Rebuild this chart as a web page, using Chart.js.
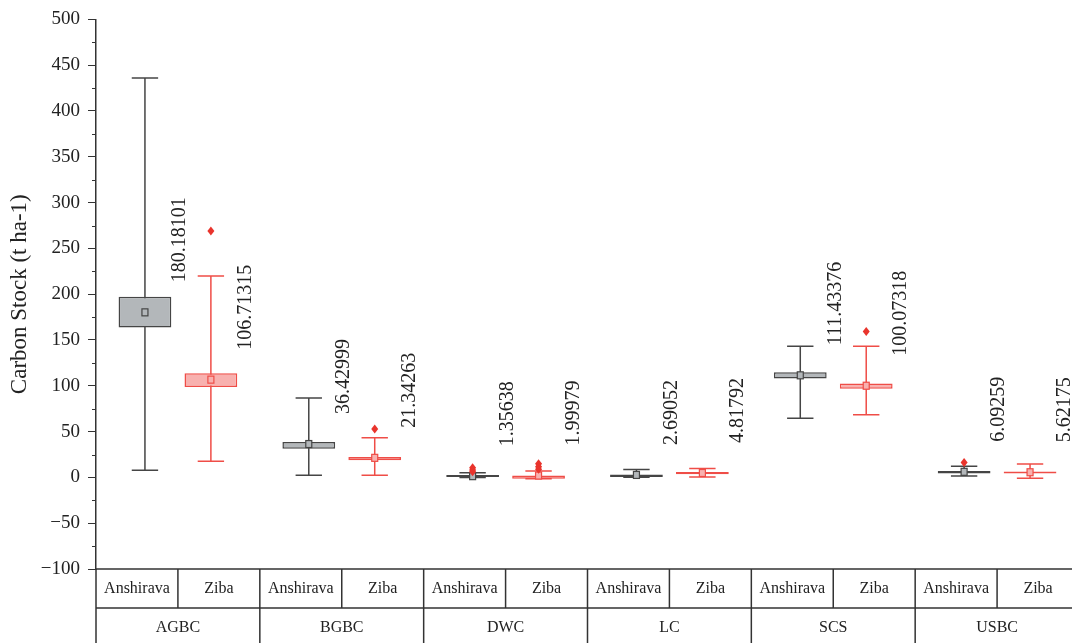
<!DOCTYPE html>
<html>
<head>
<meta charset="utf-8">
<script src="https://cdn.jsdelivr.net/npm/chart.js@4.4.1/dist/chart.umd.min.js"></script>
<style>
  html, body { margin: 0; padding: 0; background: #fff; overflow: hidden; }
  #wrap { position: relative; width: 1080px; height: 643px; }
</style>
</head>
<body>
<div id="wrap"><canvas id="grafica"></canvas></div>
<script>
const categorias = ["AGBC", "BGBC", "DWC", "LC", "SCS", "USBC"];
const sitios = ["Anshirava", "Ziba"];

// caja = [Q1, Q3], bigote = [min, max]
const cajaAnshirava = [[163.6, 197.3], [31.4, 38.7], [0, 2.6], [0.5, 3.2], [108, 114.9], [4.2, 7.0]];
const cajaZiba = [[98.6, 113.8], [18.7, 22.3], [-1.5, 2.2], [3.5, 5.8], [96.8, 102.6], [4.2, 6.5]];
const bigoteAnshirava = [[7.8, 436], [2.4, 86.6], [0, 5], [0.3, 8.6], [64.5, 143.2], [1.6, 12.2]];
const bigoteZiba = [[17.6, 219.9], [2.4, 43.4], [-1.5, 7], [0.5, 9.7], [68.5, 143.2], [-0.8, 14.7]];
const mediaAnshirava = [180.18101, 36.42999, 1.35638, 2.69052, 111.43376, 6.09259];
const mediaZiba = [106.71315, 21.34263, 1.99979, 4.81792, 100.07318, 5.62175];
const atipicosAnshirava = [[], [], [10.5, 8, 6.2], [], [], [16.2]];
const atipicosZiba = [[268.9], [52.8], [15, 11.5, 8.8], [], [159.2], []];

const yMin = -100, yMax = 500, yPaso = 50;

const fuente = '"Liberation Serif", "DejaVu Serif", serif';
const colores = [
  { relleno: "#b3b7ba", linea: "#454545" },
  { relleno: "#f8b1af", linea: "#ef4d47" }
];
const colorAtipico = "#e9342c";

const bigotes = [bigoteAnshirava, bigoteZiba];
const medias = [mediaAnshirava, mediaZiba];
const atipicos = [atipicosAnshirava, atipicosZiba];

const cajas = {
  id: "cajas",
  beforeDatasetsDraw(chart) {
    const ctx = chart.ctx, y = chart.scales.y;
    ctx.save();
    ctx.lineWidth = 1.5;
    for (let d = 0; d < 2; d++) {
      const meta = chart.getDatasetMeta(d);
      ctx.strokeStyle = colores[d].linea;
      meta.data.forEach((bar, j) => {
        const [lo, hi] = bigotes[d][j];
        const half = bar.width / 4;
        const yl = y.getPixelForValue(lo), yh = y.getPixelForValue(hi);
        ctx.beginPath();
        ctx.moveTo(bar.x, yl); ctx.lineTo(bar.x, yh);
        ctx.moveTo(bar.x - half, yl); ctx.lineTo(bar.x + half, yl);
        ctx.moveTo(bar.x - half, yh); ctx.lineTo(bar.x + half, yh);
        ctx.stroke();
      });
    }
    ctx.restore();
  },
  afterDatasetsDraw(chart) {
    const ctx = chart.ctx, y = chart.scales.y;
    ctx.save();
    for (let d = 0; d < 2; d++) {
      const meta = chart.getDatasetMeta(d);
      meta.data.forEach((bar, j) => {
        const ym = y.getPixelForValue(medias[d][j]);
        // media
        ctx.lineWidth = 1.2;
        ctx.strokeStyle = colores[d].linea;
        ctx.fillStyle = colores[d].relleno;
        ctx.fillRect(bar.x - 3, ym - 3.5, 6, 7);
        ctx.strokeRect(bar.x - 3, ym - 3.5, 6, 7);
        // atipicos
        ctx.fillStyle = colorAtipico;
        atipicos[d][j].forEach(v => {
          const yo = y.getPixelForValue(v);
          ctx.beginPath();
          ctx.moveTo(bar.x, yo - 4.5);
          ctx.lineTo(bar.x + 3.5, yo);
          ctx.lineTo(bar.x, yo + 4.5);
          ctx.lineTo(bar.x - 3.5, yo);
          ctx.closePath();
          ctx.fill();
        });
        // etiqueta
        ctx.save();
        ctx.translate(bar.x + 35, ym - 30);
        ctx.rotate(-Math.PI / 2);
        ctx.font = "20px " + fuente;
        ctx.fillStyle = "#222";
        ctx.textAlign = "left";
        ctx.textBaseline = "middle";
        ctx.fillText(String(medias[d][j]), 0, 0);
        ctx.restore();
      });
    }
    ctx.restore();
  },
  afterDraw(chart) {
    const ctx = chart.ctx, y = chart.scales.y, x = chart.scales.x;
    const a = chart.chartArea;
    ctx.save();
    // ticks menores
    ctx.strokeStyle = "#333";
    ctx.lineWidth = 1;
    ctx.beginPath();
    for (let v = yMin + yPaso / 2; v < yMax; v += yPaso) {
      const yp = Math.round(y.getPixelForValue(v)) + 0.5;
      ctx.moveTo(a.left - 4, yp); ctx.lineTo(a.left, yp);
    }
    ctx.stroke();

    // tabla de categorias
    const t1 = a.bottom, t2 = a.bottom + 39, t3 = chart.height + 5;
    const ancho = (a.right - a.left) / categorias.length;
    ctx.lineWidth = 1.5;
    ctx.strokeStyle = "#333";
    ctx.beginPath();
    ctx.moveTo(a.left, t1); ctx.lineTo(a.right, t1);
    ctx.moveTo(a.left, t2); ctx.lineTo(a.right, t2);
    ctx.moveTo(a.left, t1); ctx.lineTo(a.left, t3);
    categorias.forEach((c, i) => {
      const cx = x.getPixelForValue(i);
      ctx.moveTo(cx, t1); ctx.lineTo(cx, t2);
      ctx.moveTo(cx + ancho / 2, t1); ctx.lineTo(cx + ancho / 2, t3);
    });
    ctx.stroke();

    ctx.fillStyle = "#222";
    ctx.font = "16px " + fuente;
    ctx.textAlign = "center";
    ctx.textBaseline = "middle";
    categorias.forEach((c, i) => {
      const cx = x.getPixelForValue(i);
      ctx.fillText(sitios[0], cx - ancho / 4, t1 + 20);
      ctx.fillText(sitios[1], cx + ancho / 4, t1 + 20);
      ctx.fillText(c, cx, t2 + 20);
    });
    ctx.restore();
  }
};

new Chart(document.getElementById("grafica"), {
  type: "bar",
  data: {
    labels: categorias,
    datasets: [
      {
        label: sitios[0],
        data: cajaAnshirava,
        backgroundColor: colores[0].relleno,
        borderColor: colores[0].linea,
        borderWidth: 1.5,
        borderSkipped: false
      },
      {
        label: sitios[1],
        data: cajaZiba,
        backgroundColor: colores[1].relleno,
        borderColor: colores[1].linea,
        borderWidth: 1.5,
        borderSkipped: false
      }
    ]
  },
  options: {
    responsive: true,
    maintainAspectRatio: false,
    animation: false,
    categoryPercentage: 0.805,
    barPercentage: 0.8,
    layout: { padding: { top: 18, right: 1, bottom: 74, left: 0 } },
    plugins: {
      legend: { display: false },
      tooltip: { enabled: false }
    },
    scales: {
      x: { display: false },
      y: {
        min: yMin,
        max: yMax,
        afterFit: s => { s.width = 96; },
        ticks: {
          stepSize: yPaso,
          padding: 8,
          color: "#222",
          font: { family: fuente, size: 19 },
          callback: v => String(v).replace("-", "\u2212")
        },
        grid: {
          drawOnChartArea: false,
          drawTicks: true,
          tickLength: 8,
          tickColor: "#333",
          tickWidth: 1
        },
        border: { display: true, color: "#333", width: 1.5 },
        title: {
          display: true,
          text: "Carbon Stock (t ha-1)",
          color: "#222",
          font: { family: fuente, size: 23 },
          padding: { top: 6, bottom: 0 }
        }
      }
    }
  },
  plugins: [cajas]
});
</script>
</body>
</html>
